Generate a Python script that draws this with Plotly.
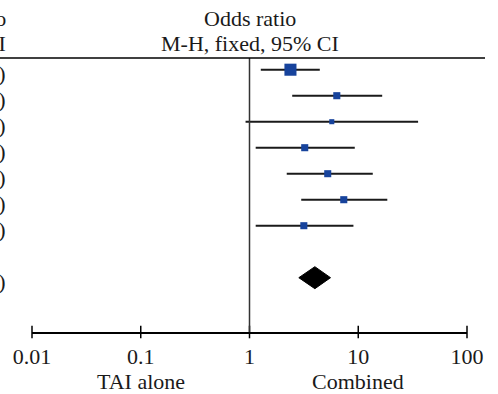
import math
import plotly.graph_objects as go

# ---- data ----
or_vals = [2.38, 6.35, 5.71, 3.22, 5.24, 7.36, 3.16]
ci_low = [1.27, 2.47, 0.92, 1.14, 2.20, 2.99, 1.14]
ci_high = [4.43, 16.6, 35.5, 9.29, 13.6, 18.5, 9.03]
weights = [34.6, 11.9, 6.1, 11.9, 11.8, 11.9, 11.8]
pooled_or = 3.99
pooled_low = 2.84
pooled_high = 5.56
tick_vals = [0.01, 0.1, 1, 10, 100]
tick_labels = ["0.01", "0.1", "1", "10", "100"]
header_lines = ["Odds ratio", "M-H, fixed, 95% CI"]
favours_left = "TAI alone"
favours_right = "Combined"

# ---- layout geometry ----
W, H = 498, 394
ML, MR, MT, MB = 32, 31, 58, 62
PH = H - MT - MB
FONT = "'Liberation Serif', 'Times New Roman', Times, serif"
FS = 22
row_step = 26.0
row0_px = 69.7
y_top = (MT - row0_px) / row_step
y_bot = (H - MB - row0_px) / row_step
n = len(or_vals)
rows = list(range(n))
pooled_row = n + 1


def py_paper(px):
    return (H - MB - px) / PH


def px_paper(px):
    return (px - ML) / (W - ML - MR)


fig = go.Figure()

# CI lines
xs, ys = [], []
for i in rows:
    xs += [ci_low[i], ci_high[i], None]
    ys += [i, i, None]
fig.add_trace(go.Scatter(x=xs, y=ys, mode="lines",
                         line=dict(color="#1a1a1a", width=2),
                         hoverinfo="skip", showlegend=False, cliponaxis=False))

# weighted squares
sizes = [2.05 * math.sqrt(w) for w in weights]
fig.add_trace(go.Scatter(x=or_vals, y=rows, mode="markers",
                         marker=dict(symbol="square", size=sizes, color="#17439c",
                                     opacity=1, line=dict(width=0)),
                         showlegend=False))

# pooled diamond
hh = 11 / row_step
fig.add_trace(go.Scatter(
    x=[pooled_low, pooled_or, pooled_high, pooled_or, pooled_low],
    y=[pooled_row, pooled_row - hh, pooled_row, pooled_row + hh, pooled_row],
    mode="lines", fill="toself", fillcolor="black",
    line=dict(color="black", width=1), showlegend=False))

# tick marks crossing the axis line
fig.add_trace(go.Scatter(x=tick_vals, y=[y_bot] * len(tick_vals), mode="markers",
                         marker=dict(symbol="line-ns", size=9,
                                     line=dict(color="black", width=1.5)),
                         cliponaxis=False, showlegend=False, hoverinfo="skip"))

# line of no effect
fig.add_shape(type="line", xref="x", yref="paper", x0=1, x1=1, y0=0, y1=1,
              line=dict(color="#333333", width=1.5))
# header rule
fig.add_shape(type="line", xref="paper", yref="paper",
              x0=px_paper(0), x1=px_paper(485), y0=1, y1=1,
              line=dict(color="black", width=1.5))

ann = []
# header
for k, t in enumerate(header_lines):
    ann.append(dict(text=t, xref="x", x=0, yref="paper", y=py_paper(19 + 25 * k),
                    xanchor="center", yanchor="middle", showarrow=False))
    # clipped left-table header
    ann.append(dict(text=t, xref="paper", x=px_paper(7.5), yref="paper",
                    y=py_paper(19 + 25 * k), xanchor="right", yanchor="middle",
                    showarrow=False))
# clipped left-table rows
for i in rows:
    t = f"{or_vals[i]:.2f} ({ci_low[i]:.2f}, {ci_high[i]:.2f})"
    ann.append(dict(text=t, xref="paper", x=px_paper(7.5), yref="paper",
                    y=py_paper(row0_px + row_step * i + 3.5), xanchor="right",
                    yanchor="middle", showarrow=False))
t = f"{pooled_or:.2f} ({pooled_low:.2f}, {pooled_high:.2f})"
ann.append(dict(text=t, xref="paper", x=px_paper(7.5), yref="paper",
                y=py_paper(row0_px + row_step * pooled_row + 3.5), xanchor="right",
                yanchor="middle", showarrow=False))
# favours labels
ann.append(dict(text=favours_left, xref="x", x=math.log10(0.1), yref="paper",
                y=py_paper(381), xanchor="center", yanchor="middle", showarrow=False))
ann.append(dict(text=favours_right, xref="x", x=math.log10(10), yref="paper",
                y=py_paper(381), xanchor="center", yanchor="middle", showarrow=False))

fig.update_layout(
    width=W, height=H,
    margin=dict(l=ML, r=MR, t=MT, b=MB, pad=0),
    paper_bgcolor="white", plot_bgcolor="white",
    font=dict(family=FONT, size=FS, color="#1a1a1a"),
    annotations=ann,
    showlegend=False,
    hovermode=False,
    xaxis=dict(type="log", range=[-2, 2], showgrid=False, zeroline=False,
               showline=True, linecolor="black", linewidth=1.5,
               tickmode="array", tickvals=tick_vals, ticktext=tick_labels,
               ticks="", ticklabelstandoff=4, fixedrange=True,
               tickfont=dict(family=FONT, size=FS, color="#1a1a1a")),
    yaxis=dict(range=[y_bot, y_top], showgrid=False, zeroline=False,
               showline=False, showticklabels=False, ticks="", fixedrange=True),
)

fig.write_html("out.html", config={"displayModeBar": False, "staticPlot": True},
               post_script="document.body.style.margin='0';document.body.style.overflow='hidden';")
